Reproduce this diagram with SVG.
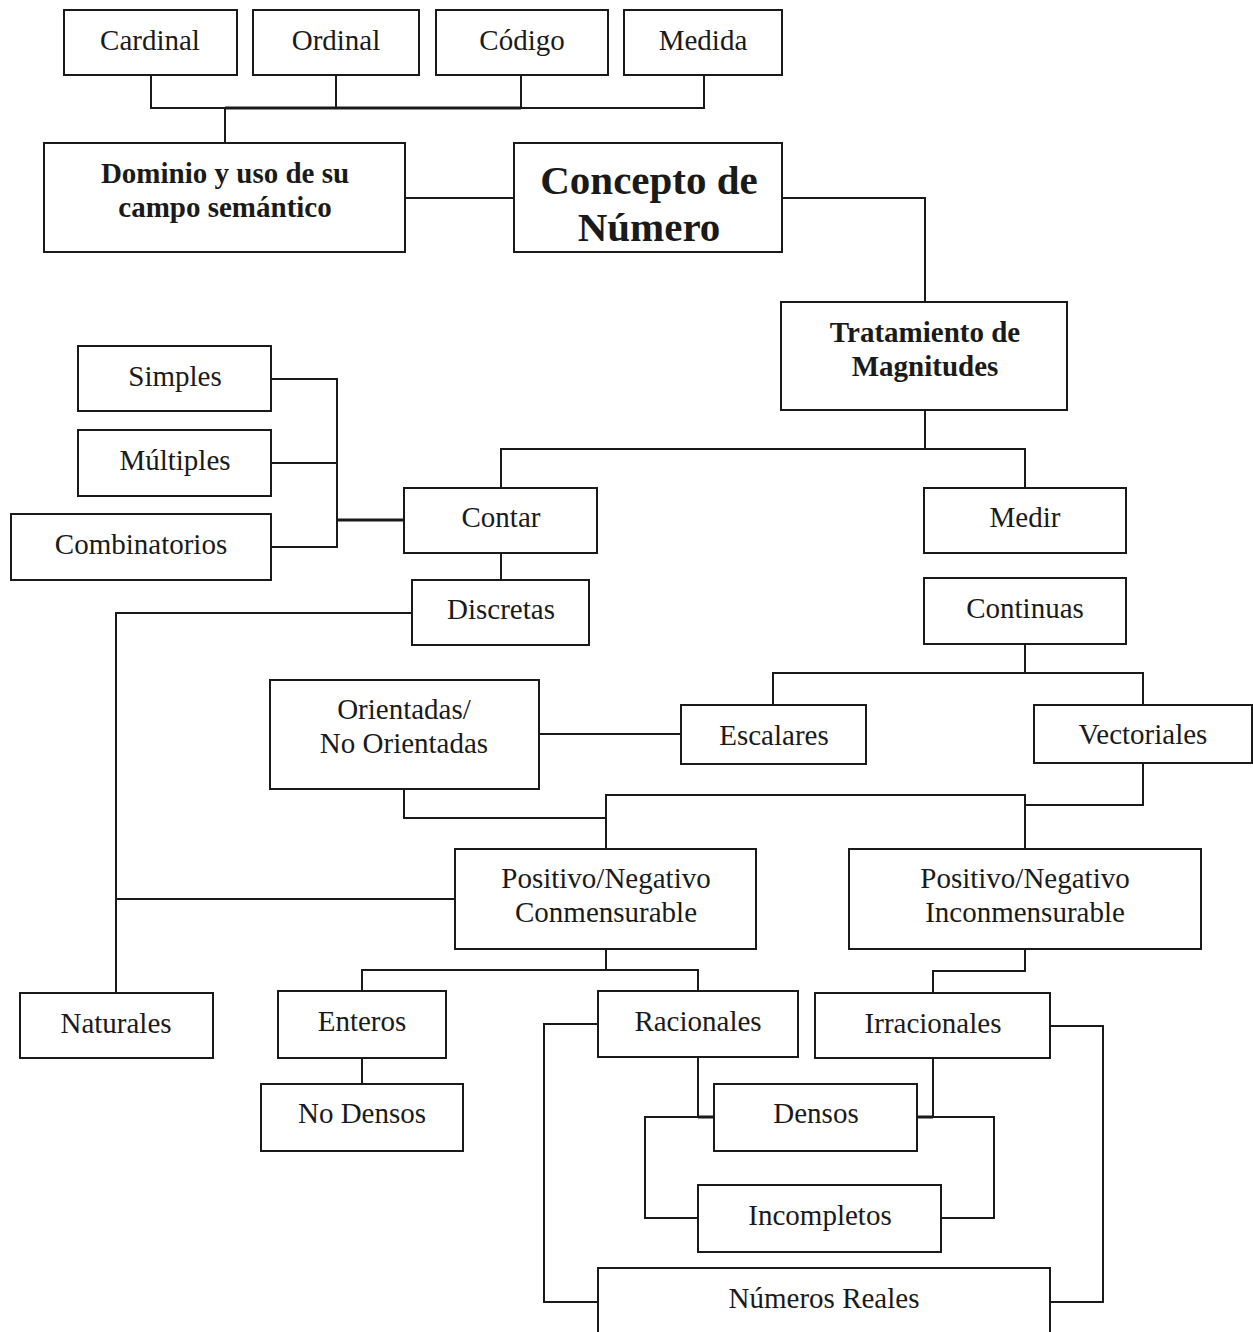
<svg xmlns="http://www.w3.org/2000/svg" width="1253" height="1332" viewBox="0 0 1253 1332">
<style>
.box{fill:#fff;stroke:#1a1a1a;stroke-width:2}
text{font-family:"Liberation Serif","Times New Roman",serif;fill:#1a1a1a;text-anchor:middle;font-size:29px}
.b{font-weight:bold}
.big{font-weight:bold;font-size:41px}
.ln{fill:none;stroke:#1a1a1a;stroke-width:2}
.th{fill:none;stroke:#1a1a1a;stroke-width:3}
</style>
<rect width="1253" height="1332" fill="#fff"/>
<g id="connectors">
<path class="ln" d="M151 75V108H704V75M336 75V108M521 75V108"/>
<path class="th" d="M225 108H521"/>
<path class="ln" d="M225 108V143"/>
<path class="ln" d="M405 198H514"/>
<path class="ln" d="M782 198H925V302"/>
<path class="ln" d="M925 410V449M501 488V449H1025V488"/>
<path class="ln" d="M271 379H337V547H271M271 463H337"/>
<path class="th" d="M337 520H404"/>
<path class="ln" d="M501 553V580"/>
<path class="ln" d="M412 613H116V993"/>
<path class="ln" d="M1025 644V673M773 705V673H1143V705"/>
<path class="ln" d="M539 734H681"/>
<path class="ln" d="M404 789V818H606M606 849V795H1025V849M1143 763V805H1025"/>
<path class="ln" d="M455 899H116"/>
<path class="ln" d="M606 949V970M362 991V970H698V991"/>
<path class="ln" d="M362 1058V1084"/>
<path class="ln" d="M1025 949V971H933V993"/>
<path class="ln" d="M698 1057V1117H645V1218H698"/>
<path class="th" d="M698 1117H714M917 1117H933"/>
<path class="ln" d="M933 1058V1117H994V1218H941"/>
<path class="ln" d="M598 1024H544V1302H598"/>
<path class="ln" d="M1050 1026H1103V1302H1050"/>
</g>
<g id="n-cardinal"><rect class="box" x="64" y="10" width="173" height="65"/><text x="150" y="50">Cardinal</text></g>
<g id="n-ordinal"><rect class="box" x="253" y="10" width="166" height="65"/><text x="336" y="50">Ordinal</text></g>
<g id="n-codigo"><rect class="box" x="436" y="10" width="172" height="65"/><text x="522" y="50">Código</text></g>
<g id="n-medida"><rect class="box" x="624" y="10" width="158" height="65"/><text x="703" y="50">Medida</text></g>
<g id="n-dominio"><rect class="box" x="44" y="143" width="361" height="109"/><text class="b" x="225" y="183">Dominio y uso de su</text><text class="b" x="225" y="217">campo semántico</text></g>
<g id="n-concepto"><rect class="box" x="514" y="143" width="268" height="109"/><text class="big" x="649" y="194">Concepto de</text><text class="big" x="649" y="241">Número</text></g>
<g id="n-tratamiento"><rect class="box" x="781" y="302" width="286" height="108"/><text class="b" x="925" y="342">Tratamiento de</text><text class="b" x="925" y="376">Magnitudes</text></g>
<g id="n-simples"><rect class="box" x="78" y="346" width="193" height="65"/><text x="175" y="386">Simples</text></g>
<g id="n-multiples"><rect class="box" x="78" y="430" width="193" height="66"/><text x="175" y="470">Múltiples</text></g>
<g id="n-combinatorios"><rect class="box" x="11" y="514" width="260" height="66"/><text x="141" y="554">Combinatorios</text></g>
<g id="n-contar"><rect class="box" x="404" y="488" width="193" height="65"/><text x="501" y="527">Contar</text></g>
<g id="n-medir"><rect class="box" x="924" y="488" width="202" height="65"/><text x="1025" y="527">Medir</text></g>
<g id="n-discretas"><rect class="box" x="412" y="580" width="177" height="65"/><text x="501" y="619">Discretas</text></g>
<g id="n-continuas"><rect class="box" x="924" y="578" width="202" height="66"/><text x="1025" y="618">Continuas</text></g>
<g id="n-orientadas"><rect class="box" x="270" y="680" width="269" height="109"/><text x="404" y="719">Orientadas/</text><text x="404" y="753">No Orientadas</text></g>
<g id="n-escalares"><rect class="box" x="681" y="705" width="185" height="59"/><text x="774" y="745">Escalares</text></g>
<g id="n-vectoriales"><rect class="box" x="1034" y="705" width="218" height="58"/><text x="1143" y="744">Vectoriales</text></g>
<g id="n-conmensurable"><rect class="box" x="455" y="849" width="301" height="100"/><text x="606" y="888">Positivo/Negativo</text><text x="606" y="922">Conmensurable</text></g>
<g id="n-inconmensurable"><rect class="box" x="849" y="849" width="352" height="100"/><text x="1025" y="888">Positivo/Negativo</text><text x="1025" y="922">Inconmensurable</text></g>
<g id="n-naturales"><rect class="box" x="20" y="993" width="193" height="65"/><text x="116" y="1033">Naturales</text></g>
<g id="n-enteros"><rect class="box" x="278" y="991" width="168" height="67"/><text x="362" y="1031">Enteros</text></g>
<g id="n-racionales"><rect class="box" x="598" y="991" width="200" height="66"/><text x="698" y="1031">Racionales</text></g>
<g id="n-irracionales"><rect class="box" x="815" y="993" width="235" height="65"/><text x="933" y="1033">Irracionales</text></g>
<g id="n-nodensos"><rect class="box" x="261" y="1084" width="202" height="67"/><text x="362" y="1123">No Densos</text></g>
<g id="n-densos"><rect class="box" x="714" y="1084" width="203" height="67"/><text x="816" y="1123">Densos</text></g>
<g id="n-incompletos"><rect class="box" x="698" y="1185" width="243" height="67"/><text x="820" y="1225">Incompletos</text></g>
<g id="n-reales"><rect class="box" x="598" y="1268" width="452" height="80"/><text x="824" y="1308">Números Reales</text></g>
</svg>
